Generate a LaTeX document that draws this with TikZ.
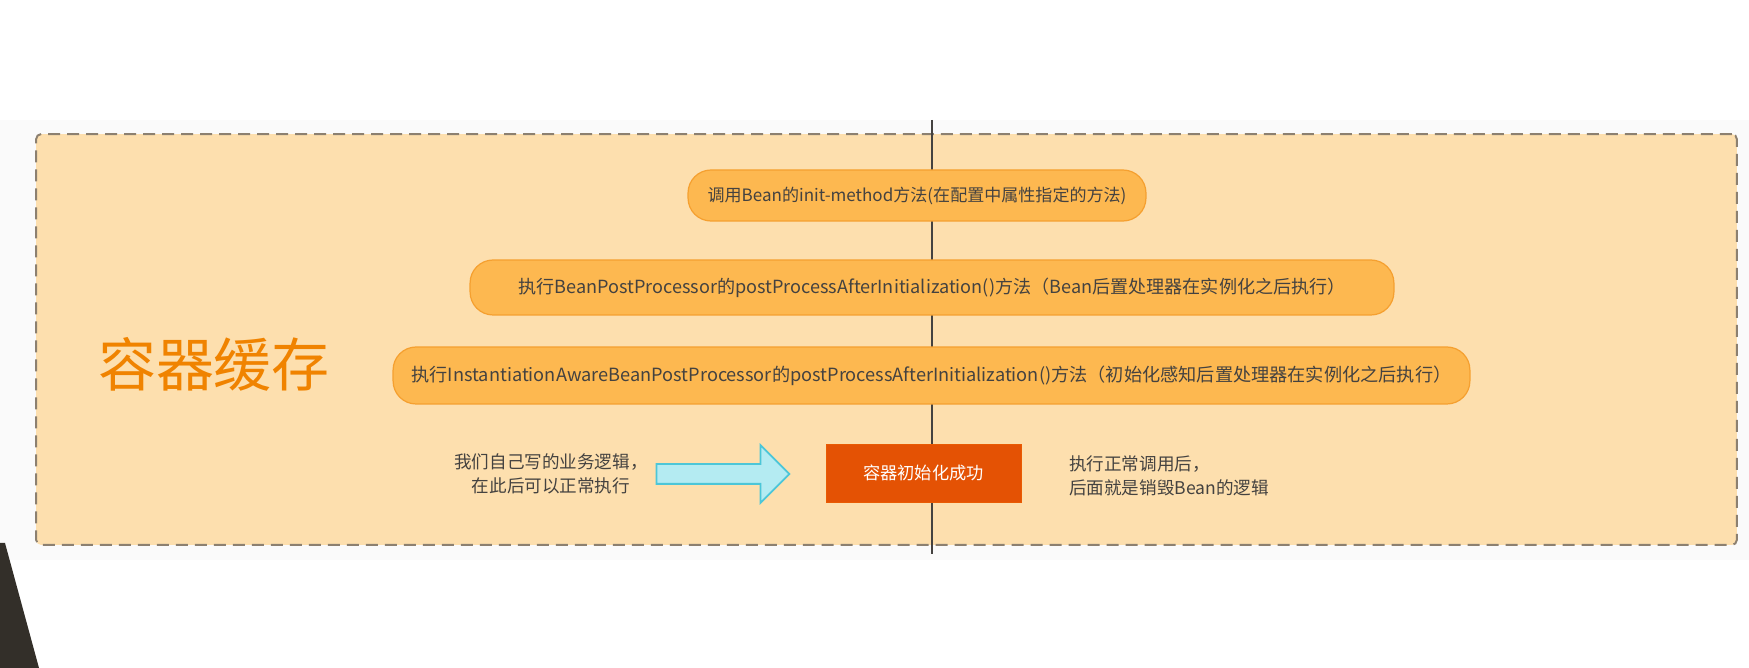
\documentclass[tikz,border=0pt]{standalone}
\usepackage{fontspec}
\setmainfont{Noto Sans CJK SC}
\usetikzlibrary{shapes.arrows}
\definecolor{cachefill}{HTML}{FDDFAE}
\definecolor{cacheedge}{HTML}{8C8070}
\definecolor{pillfill}{HTML}{FDB850}
\definecolor{pilledge}{HTML}{F5A030}
\definecolor{txt}{HTML}{444240}
\definecolor{titlecol}{HTML}{F08300}
\definecolor{okfill}{HTML}{E45204}
\definecolor{arrowfill}{HTML}{B4EBF2}
\definecolor{arrowedge}{HTML}{4CC6D8}
\begin{document}
\begin{tikzpicture}[x=0.02cm, y=-0.02cm,
  pill/.style={draw=pilledge, fill=pillfill, line width=0.7pt, rounded corners=0.46cm, text=txt},
  note/.style={text=txt, font=\fontsize{10}{14}\selectfont}]
\useasboundingbox[fill=white] (0,0) rectangle (1749,668);
\fill[black!2] (0,120) rectangle (1749,560);
\fill[black!85!olive] (0,543) -- (5,543) -- (39,668) -- (0,668) -- cycle;
\node[draw=cacheedge, fill=cachefill, line width=1.1pt, dash pattern=on 0.24cm off 0.14cm, rounded corners=0.1cm, minimum width=34.02cm, minimum height=8.22cm] (cache) at (886.5,339.5) {};
\node[text=titlecol, font=\fontsize{33}{36}\selectfont] (title) at (214,364) {容器缓存};
\coordinate (top) at (932,120);
\coordinate (bottom) at (932,554);
\draw[txt, line width=0.7pt] (top) -- (bottom);
\node[pill, font=\fontsize{9.7}{11}\selectfont, minimum width=9.16cm, minimum height=1.02cm] (init) at (917,195.5) {调用Bean的init-method方法(在配置中属性指定的方法)};
\node[pill, font=\fontsize{10.3}{11}\selectfont, minimum width=18.48cm, minimum height=1.1cm] (bpp) at (932,287.5) {执行BeanPostProcessor的postProcessAfterInitialization()方法（Bean后置处理器在实例化之后执行）};
\node[pill, font=\fontsize{10.35}{11}\selectfont, minimum width=21.54cm, minimum height=1.14cm] (iabpp) at (931.5,375.5) {执行InstantiationAwareBeanPostProcessor的postProcessAfterInitialization()方法（初始化感知后置处理器在实例化之后执行）};
\node[fill=okfill, draw=okfill!80!orange, text=white, font=\fontsize{9.8}{12}\selectfont, minimum width=3.9cm, minimum height=1.16cm] (success) at (923.5,473) {容器初始化成功};
\node[note, align=center] (own) at (551,474) {我们自己写的业务逻辑，\\在此后可以正常执行};
\node[single arrow, draw=arrowedge, fill=arrowfill, line width=1pt, inner xsep=0pt, inner ysep=0.18cm, minimum height=2.66cm, minimum width=1.12cm, single arrow head extend=0.38cm] (go) at (718,474) {};
\node[note, align=left, anchor=west] (destroy) at (1063,476) {执行正常调用后，\\后面就是销毁Bean的逻辑};
\end{tikzpicture}
\end{document}
